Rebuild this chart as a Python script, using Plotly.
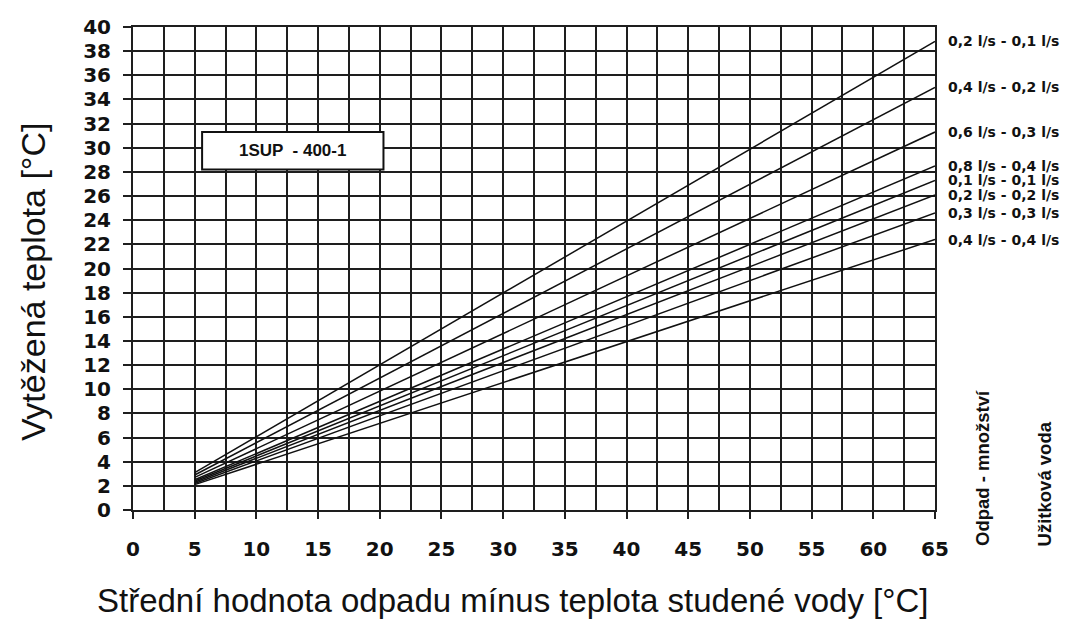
import plotly.graph_objects as go

# ---- data ----
series_labels = [
    "0,2 l/s - 0,1 l/s",
    "0,4 l/s - 0,2 l/s",
    "0,6 l/s - 0,3 l/s",
    "0,8 l/s - 0,4 l/s",
    "0,1 l/s - 0,1 l/s",
    "0,2 l/s - 0,2 l/s",
    "0,3 l/s - 0,3 l/s",
    "0,4 l/s - 0,4 l/s",
]
x_points = [5, 65]
y_start = [3.1, 2.9, 2.7, 2.5, 2.4, 2.3, 2.2, 2.1]
y_end = [38.8, 35.0, 31.3, 28.5, 27.3, 26.1, 24.6, 22.4]

x_title = "Střední hodnota odpadu mínus teplota studené vody [°C]"
y_title = "Vytěžená teplota [°C]"
box_text = "1SUP  - 400-1"
side_label_1 = "Odpad - množství"
side_label_2 = "Užitková voda"

GRID = "#1e1e1e"
TXT = "#111111"
TICKFONT = dict(family="DejaVu Sans", size=20, color=TXT, weight="bold")

fig = go.Figure()
for name, a, b in zip(series_labels, y_start, y_end):
    fig.add_trace(go.Scatter(x=x_points, y=[a, b], mode="lines", name=name,
                             line=dict(color="#111111", width=1.5), showlegend=False,
                             hoverinfo="skip"))
    fig.add_annotation(x=x_points[-1], y=b, xref="x", yref="y", text=name,
                       xanchor="left", yanchor="middle", xshift=11, showarrow=False,
                       font=dict(family="DejaVu Sans", size=14, color=TXT, weight="bold"))

fig.update_xaxes(range=[0, 65], tick0=0, dtick=5, showgrid=True, gridcolor=GRID, gridwidth=2,
                 minor=dict(dtick=2.5, showgrid=True, gridcolor=GRID, gridwidth=2),
                 showline=True, mirror=True, linecolor=GRID, linewidth=2,
                 ticks="outside", ticklen=7, tickwidth=2, tickcolor=GRID,
                 tickfont=TICKFONT, ticklabelstandoff=13, zeroline=False, automargin=False)
fig.update_yaxes(range=[0, 40], tick0=0, dtick=2, showgrid=True, gridcolor=GRID, gridwidth=2,
                 showline=True, mirror=True, linecolor=GRID, linewidth=2,
                 ticks="outside", ticklen=8, tickwidth=2, tickcolor=GRID,
                 tickfont=TICKFONT, ticklabelstandoff=8, zeroline=False, automargin=False)

# label box
fig.add_shape(type="rect", xref="x", yref="y", x0=5.6, x1=20.3, y0=28.2, y1=31.3,
              fillcolor="white", line=dict(color="#111111", width=2), layer="above")
fig.add_annotation(x=12.95, y=29.75, xref="x", yref="y", text=box_text, showarrow=False,
                   font=dict(family="Liberation Sans", size=17, color=TXT, weight="bold"))

# axis titles
fig.add_annotation(x=-0.1247, y=0.474, xref="paper", yref="paper", text=y_title,
                   textangle=-90, showarrow=False, xanchor="center", yanchor="middle",
                   font=dict(family="Liberation Sans", size=34, color=TXT))
fig.add_annotation(x=0.4726, y=-0.188, xref="paper", yref="paper", text=x_title,
                   showarrow=False, xanchor="center", yanchor="middle",
                   font=dict(family="Liberation Sans", size=33, color=TXT))

# side labels
fig.add_annotation(x=1.0586, y=-0.0787, xref="paper", yref="paper", text=side_label_1,
                   textangle=-90, showarrow=False, xanchor="center", yanchor="bottom",
                   font=dict(family="Liberation Sans", size=18.5, color=TXT, weight="bold"))
fig.add_annotation(x=1.137, y=-0.0787, xref="paper", yref="paper", text=side_label_2,
                   textangle=-90, showarrow=False, xanchor="center", yanchor="bottom",
                   font=dict(family="Liberation Sans", size=18.5, color=TXT, weight="bold"))

# page body adds an 8px offset, so the figure is 8px smaller and shifted margins
fig.update_layout(width=1061, height=611, margin=dict(l=125, r=134, t=19, b=109),
                  plot_bgcolor="white", paper_bgcolor="white")

fig.write_html("out.html")
